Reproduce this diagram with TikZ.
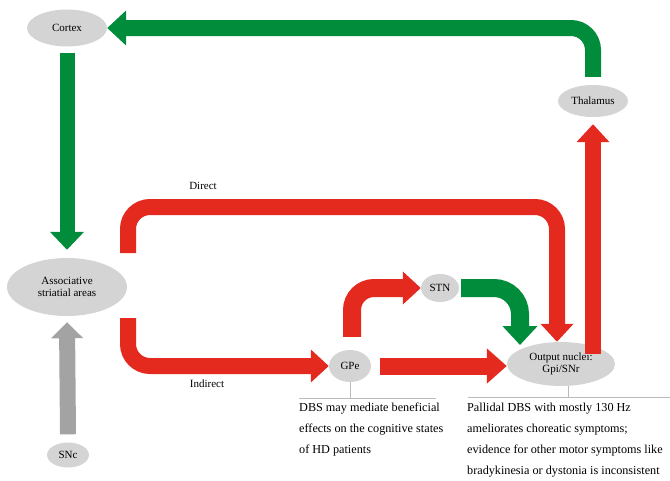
\documentclass[tikz,border=0pt]{standalone}
\usepackage{fontspec}
\setmainfont{Liberation Serif}
\usetikzlibrary{arrows.meta,calc,shapes.geometric}
\definecolor{grn}{HTML}{008C3A}
\definecolor{rd}{HTML}{E42A1F}
\definecolor{gry}{HTML}{A3A3A3}
\definecolor{nodefill}{HTML}{D4D4D4}
\definecolor{annline}{HTML}{BBBBBB}
\begin{document}
\begin{tikzpicture}[x=1pt,y=-1pt,
  region/.style={ellipse, fill=nodefill, inner sep=0pt, align=center, font=\fontsize{11}{12.5}\selectfont},
  grnarrow/.style={draw=grn, line width=16pt, rounded corners=22pt, -{Triangle[width=34pt,length=19pt]}},
  redarrow/.style={draw=rd, line width=16pt, rounded corners=22pt, -{Triangle[width=32pt,length=18pt]}},
  gryarrow/.style={draw=gry, line width=16pt, -{Triangle[width=31pt,length=16pt]}},
  annot/.style={draw=annline, line width=1pt},
  note/.style={align=left, inner sep=0pt, anchor=north west, font=\fontsize{12.2}{21}\selectfont},
  lbl/.style={inner sep=0pt, font=\fontsize{11}{12}\selectfont}
]
\path[use as bounding box] (0,0) rectangle (670,480);

% nodes
\node[region, minimum width=80pt, minimum height=37pt] (cortex) at (67,28) {Cortex};
\node[region, minimum width=70pt, minimum height=32pt] (thal) at (593,101) {Thalamus};
\node[region, minimum width=120pt, minimum height=58pt] (assoc) at (67,287) {Associative\\striatial areas};
\node[region, minimum width=42pt, minimum height=25pt] (snc) at (68,455) {SNc};
\node[region, minimum width=42pt, minimum height=32pt] (gpe) at (350,366) {GPe};
\node[region, minimum width=38pt, minimum height=28pt] (stn) at (440,288) {STN};
\node[region, minimum width=108pt, minimum height=44pt] (out) at (561,364) {Output nuclei:\\Gpi/SNr};

% free-end coordinates
\coordinate (dA) at (128,253);
\coordinate (dtop) at (340,207);
\coordinate (iA) at (128,318);
\coordinate (gtip) at (520,345);
\coordinate (uA) at (593,354);
\coordinate (n1L) at (299,398);
\coordinate (n1R) at (436,398);
\coordinate (n2L) at (468,397);
\coordinate (n2R) at (670,397);

% connectors
\draw[grnarrow] ([yshift=8pt]thal.north) |- (cortex.east);
\draw[grnarrow, line width=15pt, -{Triangle[width=33pt,length=18pt]}] ([yshift=-6pt]cortex.south) -- ([yshift=8pt]assoc.north);
\draw[gryarrow] ([yshift=8pt]snc.north) -- ([yshift=-6pt]assoc.south);
\draw[redarrow] (dA) |- (dtop) -| ([xshift=-4pt]out.north);
\draw[redarrow] (iA) |- (gpe.west);
\draw[redarrow, line width=17pt, -{Triangle[width=34pt,length=20pt]}] ([xshift=9pt]gpe.east) -- (gpe.east -| out.west);
\draw[redarrow, line width=18pt] ([xshift=2pt,yshift=13pt]gpe.north) |- (stn.west);
\draw[grnarrow, line width=18pt, rounded corners=26pt] ([xshift=2pt]stn.east) -| (gtip);
\draw[redarrow] (uA) -- ([yshift=-7pt]thal.south);

% annotations
\draw[annot] (gpe.south) -- (gpe.south |- n1L);
\draw[annot] (n1L) -- (n1R);
\draw[annot] ([xshift=7pt]out.south) -- ([xshift=7pt]out.south |- n2L);
\draw[annot] (n2L) -- (n2R);

\node[note] (note1) at (299,403) {DBS may mediate beneficial\\effects on the cognitive states\\of HD patients};
\node[note] (note2) at (467,403) {Pallidal DBS with mostly 130 Hz\\ameliorates choreatic symptoms;\\evidence for other motor symptoms like\\bradykinesia or dystonia is inconsistent};

\node[lbl] (direct) at (203,186) {Direct};
\node[lbl] (indirect) at (207,384) {Indirect};
\end{tikzpicture}
\end{document}
